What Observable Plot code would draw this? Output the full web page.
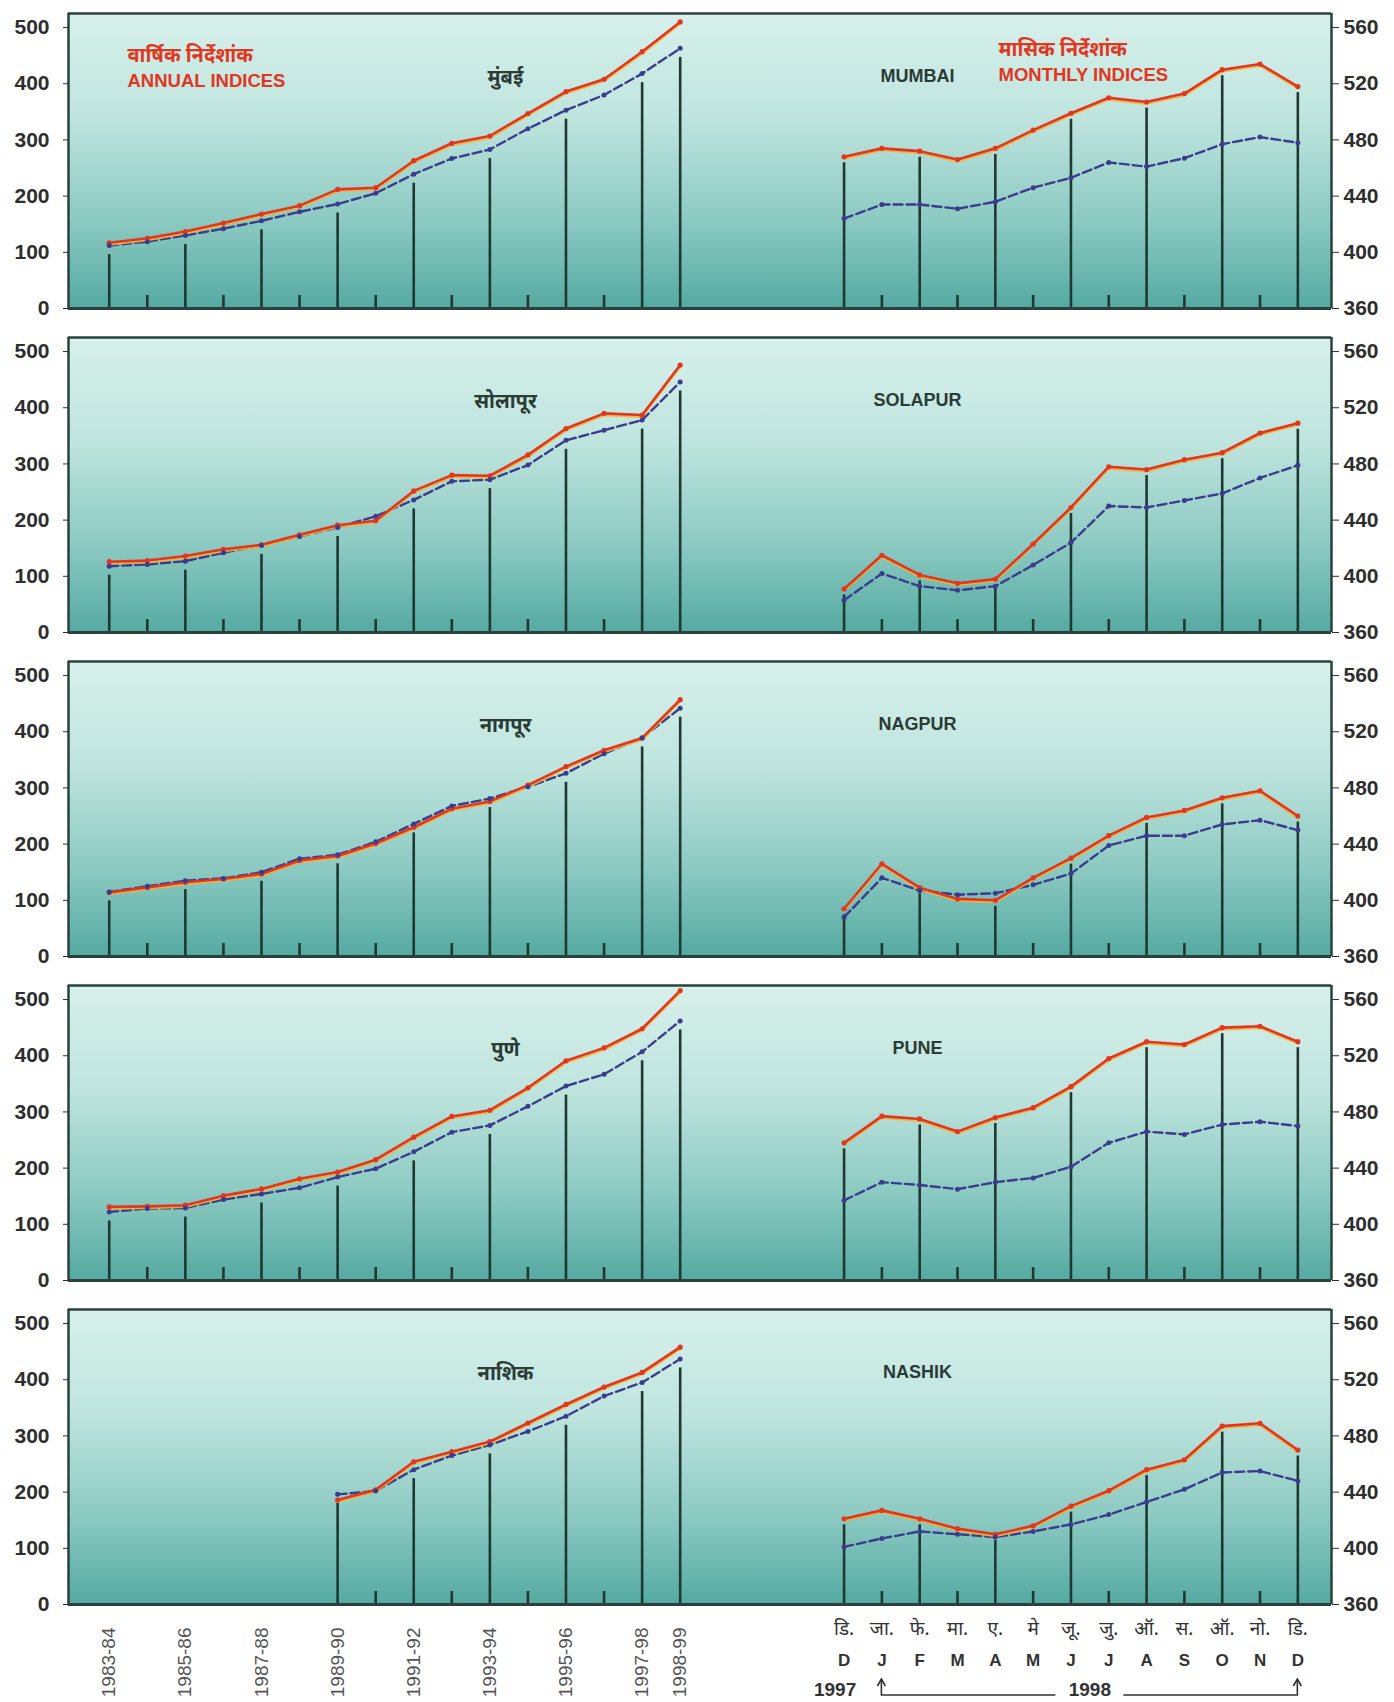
<!DOCTYPE html>
<html>
<head>
<meta charset="utf-8">
<script src="https://cdn.jsdelivr.net/npm/d3@7"></script>
<script src="https://cdn.jsdelivr.net/npm/@observablehq/plot@0.6"></script>
<style>
  html, body { margin: 0; padding: 0; background: #ffffff; }
  #chart { width: 1394px; }
  .panel { display: flex; width: 1394px; }
  .panel svg { display: block; }
</style>
</head>
<body>
<div id="chart"></div>
<script>
// ---------------- DATA ----------------
const years = ["1983-84","1984-85","1985-86","1986-87","1987-88","1988-89","1989-90","1990-91",
               "1991-92","1992-93","1993-94","1994-95","1995-96","1996-97","1997-98","1998-99"];
const monthsEn = ["D","J","F","M","A","M","J","J","A","S","O","N","D"];
const monthsHi = ["डि.","जा.","फे.","मा.","ए.","मे","जू.","जु.","ऑ.","स.","ऑ.","नो.","डि."];
const yearMarks = ["1997", "1998"];
const citiesEn = ["MUMBAI","SOLAPUR","NAGPUR","PUNE","NASHIK"];
const citiesHi = ["मुंबई","सोलापूर","नागपूर","पुणे","नाशिक"];
const annualTitle = ["वार्षिक निर्देशांक", "ANNUAL INDICES"];
const monthlyTitle = ["मासिक निर्देशांक", "MONTHLY INDICES"];
const leftTicks = [0,100,200,300,400,500];
const rightTicks = [360,400,440,480,520,560];

// annual indices (red solid series / blue dashed series)
const mumbaiAnnualRed  = [117,125,137,152,168,183,212,215,263,294,307,347,386,408,457,510];
const mumbaiAnnualBlue = [112,119,130,142,156,172,186,205,239,267,283,320,353,380,418,463];
const solapurAnnualRed  = [126,128,136,148,156,174,191,199,252,280,279,316,363,390,387,476];
const solapurAnnualBlue = [118,121,127,142,155,171,187,207,236,269,272,298,342,360,378,446];
const nagpurAnnualRed  = [114,123,132,138,147,171,179,201,230,263,276,305,338,367,389,457];
const nagpurAnnualBlue = [115,125,135,139,150,174,181,204,236,268,281,302,326,361,389,442];
const puneAnnualRed  = [131,132,134,151,163,181,193,215,255,292,303,343,391,414,448,516];
const puneAnnualBlue = [122,128,129,144,154,165,184,199,229,264,276,310,346,367,407,462];
const nashikAnnualRed  = [null,null,null,null,null,null,186,204,254,272,290,323,356,387,413,458];
const nashikAnnualBlue = [null,null,null,null,null,null,196,202,240,265,284,308,335,371,395,437];

// monthly indices, Dec 1997 .. Dec 1998
const mumbaiMonthlyRed  = [468,474,472,466,474,487,499,510,507,513,530,534,518];
const mumbaiMonthlyBlue = [424,434,434,431,436,446,453,464,461,467,477,482,478];
const solapurMonthlyRed  = [391,415,401,395,398,423,449,478,476,483,488,502,509];
const solapurMonthlyBlue = [383,402,393,390,393,408,424,450,449,454,459,470,479];
const nagpurMonthlyRed  = [394,426,409,401,400,416,430,446,459,464,473,478,460];
const nagpurMonthlyBlue = [388,416,407,404,405,411,419,439,446,446,454,457,450];
const puneMonthlyRed  = [458,477,475,466,476,483,498,518,530,528,540,541,530];
const puneMonthlyBlue = [417,430,428,425,430,433,441,458,466,464,471,473,470];
const nashikMonthlyRed  = [421,427,421,414,410,416,430,441,456,463,487,489,470];
const nashikMonthlyBlue = [401,407,412,410,408,412,417,424,433,442,454,455,448];

const annualRed  = [mumbaiAnnualRed, solapurAnnualRed, nagpurAnnualRed, puneAnnualRed, nashikAnnualRed];
const annualBlue = [mumbaiAnnualBlue, solapurAnnualBlue, nagpurAnnualBlue, puneAnnualBlue, nashikAnnualBlue];
const monthlyRed  = [mumbaiMonthlyRed, solapurMonthlyRed, nagpurMonthlyRed, puneMonthlyRed, nashikMonthlyRed];
const monthlyBlue = [mumbaiMonthlyBlue, solapurMonthlyBlue, nagpurMonthlyBlue, puneMonthlyBlue, nashikMonthlyBlue];

// ---------------- LAYOUT / STYLE ----------------
const LEFT_W = 760, RIGHT_W = 634, ML = 68, MR = 63, MT = 13, INNER = 295;
const annualDomain = [-1.07, 17.11];
const monthlyDomain = [-2.21, 12.89];
const leftY = [0, 525];
const rightY = [360, 570];
const FONT = "'Liberation Sans', Arial, Helvetica, sans-serif";
const DEVA = "'Noto Sans Devanagari','Lohit Devanagari','Mangal','FreeSans','Noto Sans','Liberation Sans',sans-serif";
const RED = "#e2361f", HALO = "#f2b13a", BLUE = "#3a3d8e", SPIKE = "#1f3832", FRAME = "#2a423b", AXIS = "#2e2e2e";

function gradientDefs(id) {
  return () => {
    const defs = d3.create("svg:defs");
    const g = defs.append("linearGradient").attr("id", id)
      .attr("x1", 0).attr("y1", 0).attr("x2", 0).attr("y2", 1);
    [[0, "#d8f0eb"], [0.35, "#bfe5de"], [0.7, "#8ccac2"], [1, "#55aaa1"]]
      .forEach(([o, c]) => g.append("stop").attr("offset", o).attr("stop-color", c));
    return defs.node();
  };
}

function bracket(fromIdx, toIdx, midIdx) {
  return (index, scales, values, dims) => {
    const x = scales.x;
    const base = dims.height - dims.marginBottom;
    const yLine = base + 91, yTip = base + 75;
    const x1 = x(fromIdx), x2 = x(toIdx), xm = x(midIdx);
    const g = d3.create("svg:g").attr("fill", "none").attr("stroke", "#333").attr("stroke-width", 1.6);
    g.append("path").attr("d", `M${x1},${yTip}V${yLine}H${xm - 34}M${xm + 34},${yLine}H${x2}V${yTip}`);
    for (const xx of [x1, x2]) g.append("path").attr("d", `M${xx - 4},${yTip + 7}L${xx},${yTip}L${xx + 4},${yTip + 7}`);
    return g.node();
  };
}

function seriesMarks(data, spikes, shorts, spikeKey, base, gap) {
  return [
    Plot.ruleX(shorts, {x: "i", insetTop: INNER - 13, stroke: SPIKE, strokeWidth: 2.6}),
    Plot.ruleX(spikes, {x: "i", y1: spikeKey, y2: () => base, insetTop: gap, stroke: SPIKE, strokeWidth: 2.6}),
    Plot.line(data, {x: "i", y: "blue", stroke: BLUE, strokeWidth: 2.4, strokeDasharray: "9,4"}),
    Plot.line(data, {x: "i", y: "red", stroke: HALO, strokeWidth: 2.2, dy: 1.8, strokeOpacity: 0.9}),
    Plot.line(data, {x: "i", y: "red", stroke: RED, strokeWidth: 2.6}),
    Plot.dot(data, {x: "i", y: "red", r: 2.6, fill: RED}),
    Plot.dot(data, {x: "i", y: "blue", r: 2.5, fill: BLUE})
  ];
}

function makePanel(k) {
  const last = k === citiesEn.length - 1;
  const MB = last ? 98 : 16;
  const H = MT + INNER + MB;
  const nY = years.length, nM = monthsEn.length;

  const annual = years.map((label, i) => ({i, label, red: annualRed[k][i], blue: annualBlue[k][i]}));
  const aDef = annual.filter(d => d.blue != null);
  const aSpikes = aDef.filter(d => d.i % 2 === 0 || d.i === nY - 1);
  const aShort = aDef.filter(d => d.i % 2 === 1 && d.i !== nY - 1);

  const monthly = monthsEn.map((label, i) => ({i, label, red: monthlyRed[k][i], blue: monthlyBlue[k][i]}));
  const mSpikes = monthly.filter(d => d.i % 2 === 0);
  const mShort = monthly.filter(d => d.i % 2 === 1);

  const gidL = `gradL${k}`, gidR = `gradR${k}`;

  // ---------- left (annual) ----------
  const leftMarks = [
    gradientDefs(gidL),
    Plot.frame({fill: `url(#${gidL})`, stroke: null, insetRight: -1}),
    ...seriesMarks(annual, aSpikes, aShort, "blue", leftY[0], 9),
    Plot.ruleY([leftY[1]], {stroke: FRAME, strokeWidth: 2.5}),
    Plot.ruleY([leftY[0]], {stroke: FRAME, strokeWidth: 3}),
    Plot.ruleX([annualDomain[0]], {stroke: FRAME, strokeWidth: 2.5}),
    Plot.axisY({anchor: "left", ticks: leftTicks, tickSize: 5, tickPadding: 14, fontSize: 21,
                fontWeight: "bold", color: AXIS, label: null, fontFamily: FONT}),
    Plot.text([citiesHi[k]], {text: d => d, frameAnchor: "top-left", dx: 437, dy: 56,
               textAnchor: "middle", fill: "#2b3b36", fontSize: 20, fontWeight: "bold", fontFamily: DEVA})
  ];
  if (k === 0) {
    leftMarks.push(
      Plot.text([annualTitle[0]], {text: d => d, frameAnchor: "top-left", dx: 59, dy: 34,
                 textAnchor: "start", fill: RED, fontSize: 20, fontWeight: "bold", fontFamily: DEVA}),
      Plot.text([annualTitle[1]], {text: d => d, frameAnchor: "top-left", dx: 59, dy: 60,
                 textAnchor: "start", fill: RED, fontSize: 18.5, fontWeight: "bold", fontFamily: FONT})
    );
  }
  if (last) {
    const yearTicks = annual.filter(d => d.i % 2 === 0 || d.i === nY - 1).map(d => d.i);
    leftMarks.push(Plot.axisX({ticks: yearTicks, tickFormat: i => years[i], tickRotate: -90,
                               tickSize: 0, tickPadding: 23, fontSize: 19, color: "#555", label: null,
                               fontFamily: FONT}));
  }
  const left = Plot.plot({
    width: LEFT_W, height: H, marginLeft: ML, marginRight: 0, marginTop: MT, marginBottom: MB,
    style: {background: "transparent", fontFamily: FONT, overflow: "visible"},
    x: {type: "linear", domain: annualDomain, ...(last ? {} : {axis: null})},
    y: {domain: leftY, label: null},
    marks: leftMarks
  });

  // ---------- right (monthly) ----------
  const rightMarks = [
    gradientDefs(gidR),
    Plot.frame({fill: `url(#${gidR})`, stroke: null}),
    ...seriesMarks(monthly, mSpikes, mShort, "red", rightY[0], 6),
    Plot.ruleY([rightY[1]], {stroke: FRAME, strokeWidth: 2.5}),
    Plot.ruleY([rightY[0]], {stroke: FRAME, strokeWidth: 3}),
    Plot.ruleX([monthlyDomain[1]], {stroke: FRAME, strokeWidth: 2.5}),
    Plot.axisY({anchor: "right", ticks: rightTicks, tickSize: 7, tickPadding: 5, fontSize: 21,
                fontWeight: "bold", color: AXIS, label: null, fontFamily: FONT}),
    Plot.text([citiesEn[k]], {text: d => d, frameAnchor: "top-left", dx: 157, dy: 56,
               textAnchor: "middle", fill: "#2b3b36", fontSize: 18, fontWeight: "bold", fontFamily: FONT})
  ];
  if (k === 0) {
    rightMarks.push(
      Plot.text([monthlyTitle[0]], {text: d => d, frameAnchor: "top-left", dx: 238, dy: 28,
                 textAnchor: "start", fill: RED, fontSize: 20, fontWeight: "bold", fontFamily: DEVA}),
      Plot.text([monthlyTitle[1]], {text: d => d, frameAnchor: "top-left", dx: 238, dy: 54,
                 textAnchor: "start", fill: RED, fontSize: 18.5, fontWeight: "bold", fontFamily: FONT})
    );
  }
  if (last) {
    const mIdx = monthly.map(d => d.i);
    const jan = 1, dec = nM - 1;
    rightMarks.push(
      Plot.axisX({ticks: mIdx, tickFormat: i => monthsHi[i], tickSize: 0, tickPadding: 17, fontSize: 19,
                  color: "#333", label: null, fontFamily: DEVA}),
      Plot.axisX({ticks: mIdx, tickFormat: i => monthsEn[i], tickSize: 0, tickPadding: 49, fontSize: 17,
                  fontWeight: "bold", color: "#333", label: null, fontFamily: FONT}),
      Plot.text([{i: 0, t: yearMarks[0]}], {x: "i", text: "t", frameAnchor: "bottom", dy: 91, dx: -9,
                 fontSize: 19, fontWeight: "bold", fill: "#333", fontFamily: FONT}),
      Plot.text([{i: (jan + dec) / 2, t: yearMarks[1]}], {x: "i", text: "t", frameAnchor: "bottom", dy: 91,
                 fontSize: 19, fontWeight: "bold", fill: "#333", fontFamily: FONT}),
      bracket(jan, dec, (jan + dec) / 2)
    );
  }
  const right = Plot.plot({
    width: RIGHT_W, height: H, marginLeft: 0, marginRight: MR, marginTop: MT, marginBottom: MB,
    style: {background: "transparent", fontFamily: FONT, overflow: "visible"},
    x: {type: "linear", domain: monthlyDomain, ...(last ? {} : {axis: null})},
    y: {domain: rightY, label: null},
    marks: rightMarks
  });

  const div = document.createElement("div");
  div.className = "panel";
  div.append(left, right);
  return div;
}

const chart = document.getElementById("chart");
citiesEn.forEach((c, k) => chart.append(makePanel(k)));
</script>
</body>
</html>
